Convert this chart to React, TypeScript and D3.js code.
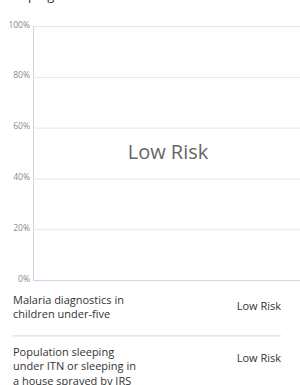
import React from "react";
import * as d3 from "d3";

const yTicks = [0, 0.2, 0.4, 0.6, 0.8, 1];
const noDataLabel = "Low Risk";
const indicators = [
  ["Malaria diagnostics in", "children under-five"],
  ["Population sleeping", "under ITN or sleeping in", "a house sprayed by IRS"],
];
const riskLevels = ["Low Risk", "Low Risk"];
const clippedTitle = "Sleeping";

const W = 300;
const H = 385;
const FONT = "'Open Sans', sans-serif";

export default function App() {
  const left = 33;
  const right = 303;
  const top = 26;
  const bottom = 280;
  const y = d3.scaleLinear().domain([0, 1]).range([bottom, top]);
  const fmt = d3.format(".0%");

  const rowTops = [304, 355.7];
  const lineH = 14.4;

  return (
    <svg
      width={W}
      height={H}
      style={{ position: "absolute", left: 0, top: 0, fontFamily: FONT }}
    >
      <rect width={W} height={H} fill="#fff" />
      <text x={3} y={0} fontSize={13} fill="#333">
        {clippedTitle}
      </text>
      {yTicks.map((t) => (
        <g key={t}>
          {t > 0 && (
            <line
              x1={left}
              x2={right}
              y1={y(t) + 0.5}
              y2={y(t) + 0.5}
              stroke="#e6e6e6"
              strokeWidth={1}
            />
          )}
          <text
            x={30}
            y={y(t) + 1.5}
            textAnchor="end"
            fontSize={8.5}
            fill="#888"
          >
            {fmt(t)}
          </text>
        </g>
      ))}
      <line x1={left + 0.5} x2={left + 0.5} y1={top} y2={bottom} stroke="#ccd6eb" strokeWidth={1} />
      <line x1={left} x2={right} y1={bottom + 0.5} y2={bottom + 0.5} stroke="#ccd6eb" strokeWidth={1} />
      <text
        x={(left + right) / 2}
        y={159}
        textAnchor="middle"
        fontSize={20}
        fill="#666"
      >
        {noDataLabel}
      </text>

      {indicators.map((lines, i) => (
        <g key={i}>
          {lines.map((l, j) => (
            <text key={j} x={13} y={rowTops[i] + j * lineH} fontSize={11} fill="#333">
              {l}
            </text>
          ))}
          <text x={281} y={rowTops[i] + 6.2} textAnchor="end" fontSize={11} fill="#333">
            {riskLevels[i]}
          </text>
        </g>
      ))}
      <rect x={13} y={335} width={268} height={1.6} fill="#e6e6e6" />
    </svg>
  );
}
